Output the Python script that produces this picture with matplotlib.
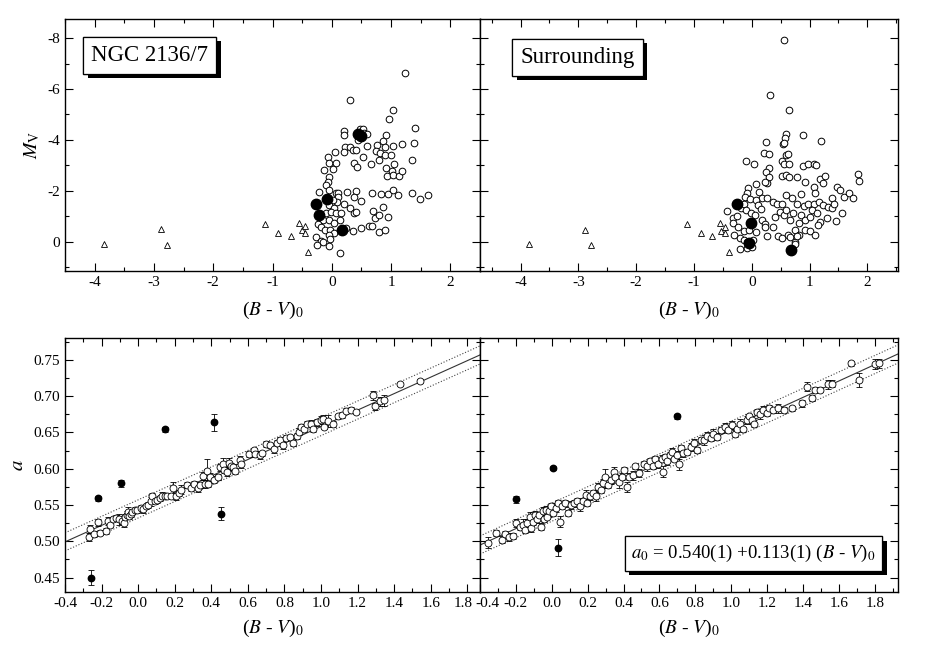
import numpy as np
import matplotlib
matplotlib.use("Agg")
from matplotlib import pyplot as plt
from matplotlib.ticker import MultipleLocator
from matplotlib.transforms import ScaledTranslation
import matplotlib.patheffects as pe

plt.rcParams["font.family"] = ["Liberation Serif", "DejaVu Serif"]
plt.rcParams["mathtext.fontset"] = "stix"
plt.rcParams["axes.unicode_minus"] = False

# ---- top: colour-magnitude diagrams ----
clusterOpenBV = [1.24, 0.31, 1.04, 0.97, 1.40, 0.20, 0.21, 0.48, 0.52, 0.55, 0.60, 0.44, 0.60, 0.91, 0.86,
                 0.77, 0.89, 1.04, 1.18, 1.39, 0.23, 0.30, 0.35, 0.41, 0.06, 0.21, 0.75, 0.81, 0.89, 1.00,
                 0.52, -0.07, -0.04, 0.07, 0.38, 0.43, 0.66, 0.80, 1.05, 1.35, 0.91, 1.02, 0.93, 1.04, 1.14,
                 1.18, -0.13, 0.02, -0.05, -0.07, -0.10, -0.22, 0.25, 0.41, 0.67, 0.83, 0.94, 1.03, 1.12,
                 1.35, 1.49, 1.62, -0.05, 0.07, 0.10, 0.10, 0.08, 0.21, 0.38, 0.49, 0.02, -0.04, 0.04,
                 0.31, 0.38, 0.41, 0.69, 0.72, 0.80, 0.87, 0.94, -0.10, -0.01, 0.07, 0.16, -0.15, -0.04,
                 0.03, 0.13, -0.24, -0.19, -0.12, -0.03, 0.04, -0.04, 0.24, 0.35, 0.49, 0.63, 0.68, 0.79,
                 0.89, -0.26, -0.18, -0.15, -0.03, -0.25, -0.05, 0.13]
clusterOpenMV = [-6.64, -5.56, -5.16, -4.82, -4.46, -4.35, -4.20, -4.43, -4.43, -4.27, -4.25, -3.99, -3.78,
                 -4.20, -3.96, -3.79, -3.73, -3.76, -3.83, -3.86, -3.73, -3.73, -3.60, -3.60, -3.53, -3.53,
                 -3.56, -3.49, -3.40, -3.40, -3.33, -3.33, -3.10, -3.10, -3.10, -2.94, -3.07, -3.20, -3.07,
                 -3.23, -2.90, -2.78, -2.58, -2.61, -2.58, -2.78, -2.81, -2.84, -2.55, -2.35, -2.22, -1.96,
                 -1.96, -2.00, -1.90, -1.87, -1.87, -2.03, -1.83, -1.93, -1.66, -1.83, -2.03, -1.90, -1.92,
                 -1.76, -1.57, -1.50, -1.76, -1.59, -1.63, -1.44, -1.31, -1.31, -1.11, -1.16, -1.22, -0.92,
                 -1.05, -1.37, -0.98, -1.11, -1.18, -1.11, -1.11, -0.85, -0.85, -0.75, -0.85, -0.69, -0.59,
                 -0.46, -0.46, -0.35, -0.26, -0.52, -0.43, -0.55, -0.61, -0.61, -0.37, -0.46, -0.20, -0.04,
                 0.03, -0.09, 0.14, 0.16, 0.43]
clusterFilledBV = [0.45, 0.49, -0.26, -0.08, -0.22, 0.17]
clusterFilledMV = [-4.25, -4.14, -1.50, -1.67, -1.05, -0.46]
clusterTriBV = [-3.85, -2.88, -2.78, -1.12, -0.90, -0.68, -0.56, -0.50, -0.46, -0.45, -0.40]
clusterTriMV = [0.09, -0.50, 0.12, -0.69, -0.35, -0.22, -0.73, -0.47, -0.60, -0.34, 0.40]

fieldOpenBV = [0.55, 0.31, 0.65, 0.59, 0.58, 0.54, 0.56, 0.89, 1.20, 0.25, 0.21, 0.29, 0.59, 0.62, -0.10,
               0.04, 0.52, 0.56, 0.65, 0.89, 0.98, 1.07, 1.11, 0.29, 0.25, 0.29, 0.27, 0.23, 0.52, 0.59,
               0.65, 0.78, 0.92, 1.18, 1.26, 1.24, 1.07, 1.10, 1.47, 1.53, 1.39, 1.60, 1.69, 1.75, 1.83,
               1.86, -0.07, -0.09, 0.07, 0.13, 0.17, 0.26, -0.12, -0.03, 0.07, 0.10, 0.16, 0.37, 0.43,
               0.52, 0.59, 0.69, 0.78, 0.86, 0.90, 0.97, 1.07, 1.16, 1.23, 1.31, 1.38, 1.43, -0.42,
               -0.33, -0.25, -0.18, -0.14, -0.10, -0.02, 0.05, 0.17, 0.23, 0.36, 0.40, 0.48, 0.56, 0.59,
               0.66, 0.72, 0.81, 0.86, 0.92, 1.01, 1.05, 1.12, 1.18, 1.30, 1.46, 1.56, -0.32, -0.23,
               -0.13, -0.04, 0.07, 0.23, 0.45, 0.53, 0.63, 0.75, 0.82, 0.92, 1.00, 1.09, 1.15, -0.31,
               -0.20, -0.14, -0.09, 0.03, 0.26, 0.66, 0.75, 0.78, -0.21, -0.09, 0.00, 0.75]
fieldOpenMV = [-7.93, -5.78, -5.16, -4.22, -4.09, -3.83, -3.88, -4.20, -3.97, -3.92, -3.50, -3.46, -3.40,
               -3.46, -3.19, -3.07, -3.18, -3.07, -3.07, -2.97, -3.07, -3.05, -3.03, -2.90, -2.74, -2.55,
               -2.29, -2.35, -2.59, -2.63, -2.55, -2.55, -2.35, -2.48, -2.59, -2.31, -2.16, -1.93, -2.16,
               -2.03, -1.70, -1.76, -1.90, -1.70, -2.65, -2.38, -2.13, -1.93, -2.26, -1.96, -1.70, -1.70,
               -1.74, -1.66, -1.63, -1.45, -1.29, -1.57, -1.48, -1.50, -1.83, -1.70, -1.48, -1.87, -1.40,
               -1.50, -1.48, -1.57, -1.44, -1.37, -1.31, -1.48, -1.22, -0.92, -1.00, -1.31, -1.50, -1.24,
               -1.14, -1.05, -0.85, -0.69, -0.59, -0.98, -1.18, -1.05, -1.24, -0.85, -1.11, -0.75, -1.05,
               -0.85, -0.98, -1.24, -1.11, -0.78, -0.92, -0.82, -1.11, -0.72, -0.59, -0.42, -0.46, -0.39,
               -0.59, -0.22, -0.16, -0.26, -0.46, -0.26, -0.46, -0.43, -0.25, -0.65, -0.25, -0.13, -0.07,
               0.03, -0.07, -0.24, -0.17, 0.00, -0.22, 0.30, 0.26, 0.22, 0.07]
fieldFilledBV = [-0.26, -0.01, -0.04, 0.67]
fieldFilledMV = [-1.50, -0.75, 0.04, 0.33]
fieldTriBV = [-3.85, -2.88, -2.78, -1.12, -0.88, -0.68, -0.55, -0.47, -0.53, -0.46, -0.40]
fieldTriMV = [0.10, -0.48, 0.13, -0.68, -0.34, -0.21, -0.72, -0.59, -0.42, -0.33, 0.42]

# ---- bottom: a versus colour ----
clusterBV = [-0.267, -0.261, -0.240, -0.218, -0.207, -0.176, -0.163, -0.152, -0.140, -0.122, -0.103,
             -0.091, -0.080, -0.073, -0.062, -0.058, -0.049, -0.040, -0.031, -0.018, -0.004, 0.015,
             0.029, 0.042, 0.054, 0.069, 0.078, 0.091, 0.105, 0.120, 0.132, 0.145, 0.160, 0.178, 0.192,
             0.205, 0.223, 0.232, 0.265, 0.287, 0.305, 0.327, 0.341, 0.356, 0.363, 0.377, 0.381, 0.392,
             0.414, 0.436, 0.446, 0.465, 0.472, 0.486, 0.495, 0.508, 0.519, 0.532, 0.559, 0.563, 0.604,
             0.635, 0.641, 0.664, 0.677, 0.701, 0.719, 0.744, 0.759, 0.777, 0.791, 0.809, 0.831, 0.849,
             0.871, 0.882, 0.889, 0.907, 0.922, 0.944, 0.958, 0.976, 0.998, 1.013, 1.016, 1.040, 1.067,
             1.094, 1.113, 1.136, 1.162, 1.191, 1.285, 1.294, 1.325, 1.343, 1.434, 1.543]
clusterA = [0.506, 0.517, 0.510, 0.526, 0.512, 0.514, 0.528, 0.523, 0.531, 0.532, 0.530, 0.528, 0.525,
            0.534, 0.536, 0.540, 0.535, 0.538, 0.540, 0.543, 0.543, 0.546, 0.544, 0.548, 0.550, 0.555,
            0.563, 0.556, 0.557, 0.559, 0.563, 0.562, 0.563, 0.563, 0.574, 0.562, 0.567, 0.571, 0.577,
            0.574, 0.579, 0.574, 0.578, 0.590, 0.579, 0.597, 0.579, 0.588, 0.585, 0.589, 0.602, 0.607,
            0.598, 0.596, 0.608, 0.603, 0.602, 0.597, 0.612, 0.607, 0.620, 0.626, 0.620, 0.619, 0.621,
            0.634, 0.632, 0.627, 0.635, 0.639, 0.632, 0.642, 0.644, 0.635, 0.645, 0.651, 0.658, 0.655,
            0.661, 0.662, 0.654, 0.664, 0.667, 0.669, 0.658, 0.666, 0.662, 0.672, 0.674, 0.680, 0.681,
            0.678, 0.701, 0.686, 0.693, 0.694, 0.716, 0.721]
clusterErr = [0.005, 0.006, 0.004, 0.005, 0.004, 0.004, 0.005, 0.004, 0.003, 0.004, 0.007, 0.004, 0.005,
              0.004, 0.005, 0.007, 0.004, 0.005, 0.003, 0.004, 0.004, 0.004, 0.005, 0.003, 0.004, 0.006,
              0.004, 0.005, 0.004, 0.003, 0.005, 0.004, 0.004, 0.003, 0.007, 0.005, 0.004, 0.006, 0.004,
              0.005, 0.004, 0.006, 0.004, 0.006, 0.005, 0.017, 0.004, 0.006, 0.005, 0.004, 0.005, 0.008,
              0.004, 0.006, 0.007, 0.005, 0.005, 0.004, 0.005, 0.006, 0.004, 0.003, 0.004, 0.005, 0.004,
              0.004, 0.004, 0.005, 0.004, 0.004, 0.005, 0.004, 0.003, 0.004, 0.004, 0.005, 0.004, 0.004,
              0.004, 0.005, 0.004, 0.005, 0.006, 0.005, 0.004, 0.008, 0.004, 0.004, 0.004, 0.003, 0.004,
              0.003, 0.006, 0.005, 0.006, 0.007, 0.002, 0.003]
clusterOutBV = [-0.258, -0.221, -0.093, 0.149, 0.417, 0.452]
clusterOutA = [0.450, 0.559, 0.580, 0.654, 0.664, 0.538]
clusterOutErr = [0.010, 0.003, 0.005, 0.004, 0.012, 0.009]

fieldBV = [-0.353, -0.310, -0.279, -0.260, -0.241, -0.214, -0.199, -0.180, -0.162, -0.149, -0.139, -0.124,
           -0.117, -0.102, -0.093, -0.084, -0.069, -0.061, -0.050, -0.043, -0.032, -0.024, -0.013,
           -0.006, 0.009, 0.024, 0.037, 0.043, 0.056, 0.074, 0.093, 0.106, 0.124, 0.143, 0.158, 0.176,
           0.191, 0.199, 0.214, 0.232, 0.247, 0.260, 0.273, 0.288, 0.297, 0.316, 0.329, 0.344, 0.353,
           0.377, 0.390, 0.403, 0.418, 0.433, 0.455, 0.464, 0.488, 0.514, 0.529, 0.548, 0.563, 0.576,
           0.594, 0.613, 0.618, 0.631, 0.644, 0.659, 0.669, 0.682, 0.700, 0.711, 0.719, 0.734, 0.756,
           0.774, 0.793, 0.812, 0.830, 0.849, 0.867, 0.886, 0.901, 0.923, 0.941, 0.966, 0.984, 1.003,
           1.021, 1.034, 1.049, 1.068, 1.086, 1.101, 1.114, 1.127, 1.146, 1.161, 1.179, 1.198, 1.213,
           1.235, 1.259, 1.294, 1.337, 1.393, 1.421, 1.448, 1.467, 1.495, 1.541, 1.560, 1.666, 1.714,
           1.801, 1.825]
fieldA = [0.498, 0.511, 0.502, 0.510, 0.506, 0.507, 0.525, 0.520, 0.523, 0.516, 0.525, 0.534, 0.518,
          0.527, 0.536, 0.530, 0.536, 0.520, 0.541, 0.531, 0.543, 0.534, 0.541, 0.548, 0.539, 0.546,
          0.552, 0.527, 0.548, 0.552, 0.539, 0.550, 0.552, 0.556, 0.548, 0.555, 0.564, 0.552, 0.562,
          0.566, 0.562, 0.575, 0.571, 0.580, 0.589, 0.578, 0.584, 0.596, 0.589, 0.582, 0.589, 0.598,
          0.575, 0.589, 0.591, 0.603, 0.594, 0.607, 0.603, 0.610, 0.603, 0.614, 0.607, 0.614, 0.596,
          0.616, 0.610, 0.619, 0.623, 0.614, 0.619, 0.606, 0.628, 0.621, 0.623, 0.630, 0.635, 0.626,
          0.639, 0.639, 0.645, 0.642, 0.648, 0.644, 0.653, 0.658, 0.653, 0.660, 0.648, 0.655, 0.662,
          0.654, 0.667, 0.672, 0.667, 0.662, 0.678, 0.675, 0.681, 0.677, 0.683, 0.681, 0.683, 0.681,
          0.683, 0.690, 0.713, 0.697, 0.708, 0.709, 0.716, 0.717, 0.745, 0.722, 0.744, 0.745]
fieldErr = [0.008, 0.004, 0.005, 0.004, 0.005, 0.004, 0.006, 0.004, 0.007, 0.004, 0.005, 0.006, 0.005,
            0.004, 0.006, 0.005, 0.004, 0.005, 0.006, 0.004, 0.005, 0.004, 0.007, 0.005, 0.004, 0.006,
            0.005, 0.008, 0.004, 0.005, 0.004, 0.006, 0.005, 0.004, 0.007, 0.004, 0.006, 0.004, 0.005,
            0.004, 0.006, 0.005, 0.004, 0.006, 0.010, 0.004, 0.005, 0.006, 0.004, 0.009, 0.005, 0.004,
            0.007, 0.005, 0.006, 0.004, 0.005, 0.004, 0.006, 0.005, 0.004, 0.004, 0.006, 0.005, 0.008,
            0.004, 0.005, 0.004, 0.006, 0.004, 0.005, 0.008, 0.004, 0.005, 0.004, 0.005, 0.006, 0.004,
            0.004, 0.007, 0.005, 0.004, 0.006, 0.005, 0.004, 0.005, 0.004, 0.006, 0.005, 0.004, 0.006,
            0.004, 0.005, 0.004, 0.006, 0.005, 0.004, 0.006, 0.005, 0.004, 0.005, 0.004, 0.006, 0.004,
            0.003, 0.005, 0.006, 0.004, 0.004, 0.004, 0.006, 0.005, 0.003, 0.010, 0.007, 0.006]
fieldOutBV = [-0.199, 0.009, 0.035, 0.696]
fieldOutA = [0.558, 0.601, 0.491, 0.672]
fieldOutErr = [0.005, 0.003, 0.012, 0.004]

# linear fits drawn in the lower panels
clusterFit = (0.5445, 0.1135)
fieldFit = (0.540, 0.113)
bandWidth = 0.0125

figure = plt.figure(figsize=(9.26, 6.6), dpi=100)
axTL = figure.add_axes([0.0702, 0.5894, 0.4482, 0.3818])
axTR = figure.add_axes([0.5184, 0.5894, 0.4514, 0.3818])
axBL = figure.add_axes([0.0702, 0.103, 0.4482, 0.3848])
axBR = figure.add_axes([0.5184, 0.103, 0.4514, 0.3848])


def styleAxis(ax):
    ax.tick_params(which="both", direction="in", top=True, right=True, labelsize=11, width=0.8)
    ax.tick_params(which="major", length=6)
    ax.tick_params(which="minor", length=3)
    for s in ax.spines.values():
        s.set_linewidth(1.0)


def shadowBox(ax, x, y, text, size):
    t = ax.text(x, y, text, transform=ax.transAxes, ha="center", va="center", fontsize=size,
                bbox=dict(boxstyle="square,pad=0.35", fc="white", ec="black", lw=0.9), zorder=10)
    t.get_bbox_patch().set_path_effects([
        pe.withSimplePatchShadow(offset=(3.5, -3.5), shadow_rgbFace="black", alpha=1.0),
        pe.Normal()])


cmdPanels = [
    (axTL, clusterOpenBV, clusterOpenMV, clusterFilledBV, clusterFilledMV, clusterTriBV, clusterTriMV,
     (-4.5, 2.5), "NGC 2136/7", (0.204, 0.857)),
    (axTR, fieldOpenBV, fieldOpenMV, fieldFilledBV, fieldFilledMV, fieldTriBV, fieldTriMV,
     (-4.7, 2.53), "Surrounding", (0.233, 0.849)),
]
for ax, obv, omv, fbv, fmv, tbv, tmv, xl, name, pos in cmdPanels:
    ax.plot(obv, omv, "o", ms=4.8, mfc="white", mec="black", mew=0.7, ls="none")
    ax.plot(tbv, tmv, "^", ms=5, mfc="white", mec="black", mew=0.6, ls="none")
    ax.plot(fbv, fmv, "o", ms=7.5, mfc="black", mec="black", ls="none")
    ax.set_xlim(*xl)
    ax.set_ylim(1.15, -8.75)
    ax.xaxis.set_major_locator(MultipleLocator(1))
    ax.xaxis.set_minor_locator(MultipleLocator(0.5))
    ax.yaxis.set_major_locator(MultipleLocator(2))
    ax.yaxis.set_minor_locator(MultipleLocator(1))
    styleAxis(ax)
    ax.set_xlabel(r"($B$ - $V$)$_0$", fontsize=14, labelpad=8)
    shadowBox(ax, pos[0], pos[1], name, 16.5)

axTL.set_ylabel(r"$M_{\rm V}$", fontsize=14, labelpad=4)
axTR.tick_params(labelleft=False)

fitPanels = [
    (axBL, clusterBV, clusterA, clusterErr, clusterOutBV, clusterOutA, clusterOutErr, clusterFit, (-0.4, 1.87)),
    (axBR, fieldBV, fieldA, fieldErr, fieldOutBV, fieldOutA, fieldOutErr, fieldFit, (-0.4, 1.93)),
]
for ax, bv, a, err, obv, oa, oerr, fit, xl in fitPanels:
    xx = np.array(xl)
    yy = fit[0] + fit[1] * xx
    ax.plot(xx, yy, "-", color="#333333", lw=0.8)
    ax.plot(xx, yy + bandWidth, ":", color="#444444", lw=0.8)
    ax.plot(xx, yy - bandWidth, ":", color="#444444", lw=0.8)
    ax.errorbar(bv, a, yerr=err, fmt="o", ms=5, mfc="white", mec="black", mew=0.6,
                ecolor="black", elinewidth=0.6, capsize=2, capthick=0.6)
    ax.errorbar(obv, oa, yerr=oerr, fmt="o", ms=4.6, mfc="black", mec="black",
                ecolor="black", elinewidth=0.6, capsize=2, capthick=0.6)
    ax.set_xlim(*xl)
    ax.set_ylim(0.43, 0.78)
    ax.xaxis.set_major_locator(MultipleLocator(0.2))
    ax.xaxis.set_minor_locator(MultipleLocator(0.1))
    ax.yaxis.set_major_locator(MultipleLocator(0.05))
    ax.yaxis.set_minor_locator(MultipleLocator(0.025))
    ax.xaxis.set_major_formatter(matplotlib.ticker.FormatStrFormatter("%.1f"))
    ax.yaxis.set_major_formatter(matplotlib.ticker.FormatStrFormatter("%.2f"))
    styleAxis(ax)
    ax.set_xlabel(r"($B$ - $V$)$_0$", fontsize=14, labelpad=6)

axBL.set_ylabel(r"$a$", fontsize=15, labelpad=4)
axBR.tick_params(labelleft=False)
shadowBox(axBR, 0.654, 0.152, r"$a_0$ = 0.540(1) +0.113(1) ($B$ - $V$)$_0$", 13.5)

# nudge the two labels that meet at the shared edge of the lower panels
figure.canvas.draw()
for lab in axBL.get_xticklabels():
    if lab.get_text() == "1.8":
        lab.set_transform(lab.get_transform() + ScaledTranslation(-0.045, 0, figure.dpi_scale_trans))
for lab in axBR.get_xticklabels():
    if lab.get_text() == "-0.4":
        lab.set_transform(lab.get_transform() + ScaledTranslation(0.07, 0, figure.dpi_scale_trans))

plt.savefig("out.png", dpi=100)
